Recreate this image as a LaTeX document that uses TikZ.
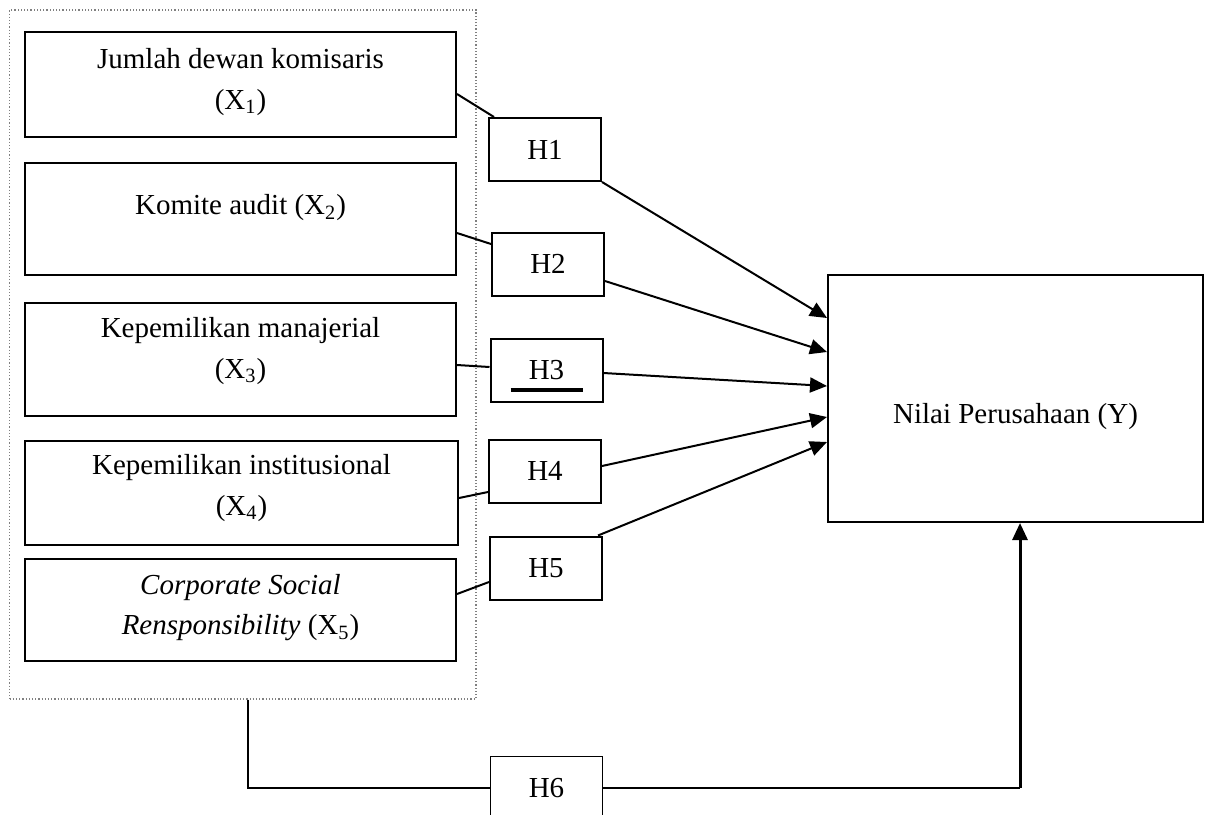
\documentclass[tikz,border=0pt]{standalone}
\usepackage{fontspec}
\setmainfont{Liberation Serif}
\usepackage{tikz}
\usetikzlibrary{positioning}
\usetikzlibrary{calc}
\usetikzlibrary{arrows.meta}

\begin{document}
\begin{tikzpicture}[x=0.5pt, y=-0.5pt,
  every node/.style={font=\fontsize{14.5}{20.3}\selectfont},
  varbox/.style={draw, line width=1pt, minimum width=215.5pt, inner sep=0pt},
  vartext/.style={align=center, inner sep=0pt},
  hbox/.style={draw, line width=1pt, minimum width=56pt, minimum height=31.5pt, inner sep=0pt},
  link/.style={line width=1pt},
  arr/.style={line width=1pt, -{Triangle[length=8.5pt, width=7.5pt]}}]
\useasboundingbox (0,0) rectangle (1208,814);
% dotted frame round the five variables
\node[draw=gray, densely dotted, line width=0.6pt, minimum width=233.25pt, minimum height=344.5pt, inner sep=0pt] (grp) at (242.75,354.5) {};
\node[varbox, minimum height=52.5pt] (x1) at (240.5,84.5) {};
\node[vartext] (x1t) at ([yshift=1.25pt]x1.center) {Jumlah dewan komisaris\\(X\textsubscript{1})};
\node[varbox, minimum height=56pt] (x2) at (240.5,219) {};
\node[vartext] (x2t) at ([yshift=5.5pt]x2.center) {Komite audit (X\textsubscript{2})};
\node[varbox, minimum height=56.5pt] (x3) at (240.5,359.5) {};
\node[vartext] (x3t) at ([yshift=4.25pt]x3.center) {Kepemilikan manajerial\\(X\textsubscript{3})};
\node[varbox, minimum width=216.5pt, minimum height=52pt] (x4) at (241.5,493) {};
\node[vartext] (x4t) at ([yshift=2.5pt]x4.center) {Kepemilikan institusional\\(X\textsubscript{4})};
\node[varbox, minimum height=51pt] (x5) at (240.5,610) {};
\node[vartext] (x5t) at ([yshift=1.25pt]x5.center) {\textit{Corporate Social}\\\textit{Rensponsibility} (X\textsubscript{5})};
% hypotheses
\node[hbox] (h1) at (545,149.5) {H1};
\node[hbox] (h2) at (548,264) {H2};
\node[hbox] (h3) at (546.5,370.5) {H3};
\node[hbox] (h4) at (545,471) {H4};
\node[hbox] (h5) at (546,568) {H5};
\node[hbox, line width=0.7pt] (h6) at (546.5,788) {H6};
\draw[line width=1.7pt] ($(h3.center)+(-36,19.5)$) -- ++(72,0);
% dependent variable
\node[draw, line width=1pt, minimum width=187.5pt, minimum height=123.5pt] (nilai) at (1015.5,398.5) {};
\node[vartext] (nilait) at ([yshift=-9.25pt]nilai.center) {Nilai Perusahaan (Y)};
\draw[link] ([yshift=-4.75pt]x1.east) -- ([xshift=3pt]h1.north west);
\draw[arr] (h1.south east) -- ([yshift=40.25pt]nilai.west);
\draw[link] ([yshift=-7pt]x2.east) -- ([yshift=10pt]h2.west);
\draw[arr] ([yshift=-8.5pt]h2.east) -- ([yshift=23.25pt]nilai.west);
\draw[link] ([yshift=-2.75pt]x3.east) -- ([yshift=1.75pt]h3.west);
\draw[arr] ([yshift=-1.25pt]h3.east) -- ([yshift=6.25pt]nilai.west);
\draw[link] ([yshift=-2.5pt]x4.east) -- ([yshift=-10.5pt]h4.west);
\draw[arr] ([yshift=2.5pt]h4.east) -- ([yshift=-9.25pt]nilai.west);
\draw[link] ([yshift=8pt]x5.east) -- ([yshift=-7pt]h5.west);
\draw[arr] ([xshift=-2.5pt]h5.north east) -- ([yshift=-21.75pt]nilai.west);
% H6 from the whole group
\coordinate (bend) at ($(nilai.south |- h6.east)+(4.5,0)$);
\draw[link] ([xshift=2.6pt]grp.south) |- (h6.west);
\draw[link] (h6.east) -- (bend);
\draw[arr, line width=1.5pt] (bend) -- (bend |- nilai.south);
\end{tikzpicture}
\end{document}
